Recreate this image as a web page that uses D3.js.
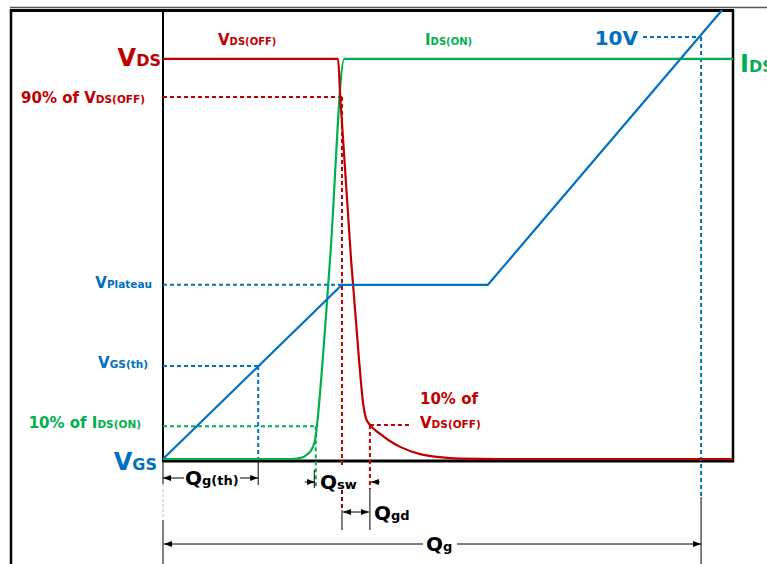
<!DOCTYPE html>
<html>
<head>
<meta charset="utf-8">
<script src="https://cdn.jsdelivr.net/npm/d3@7"></script>
<style>
body { margin: 0; background: #fff; }
svg { display: block; }
</style>
</head>
<body>
<svg width="767" height="564"></svg>
<script>
// Carica di gate sull'asse x (0-100), livelli normalizzati sull'asse y (0-100)
const vdsCharge = [0, 30.7, 31.1, 33.0, 34.4, 35.1, 35.6, 36.3, 38.1, 39.8, 41.6, 45.1, 48.6, 52.1, 59.1, 100];
const vdsLevel = [89.1, 89.1, 80.6, 44.3, 22.0, 12.5, 9.1, 7.6, 5.6, 4.0, 2.7, 1.1, 0.4, 0.1, 0, 0];

const idsCharge = [0, 22.3, 24.0, 25.4, 26.3, 26.8, 27.0, 29.3, 31.8, 100];
const idsLevel = [0, 0, 0.2, 1.1, 2.7, 5.1, 7.3, 44.3, 89.1, 89.1];

const vgsCharge = [0, 31.4, 57.0, 98.1];
const vgsLevel = [0, 38.8, 38.8, 100];

// livelli di riferimento: 90% VDS(OFF), 10% IDS(ON), 10% VDS(OFF), VPlateau, VGS(th), 10V
const refLevels = [80.6, 7.3, 7.6, 38.8, 20.7, 94.0];
// cariche di riferimento: Qg(th), inizio Qsw, inizio plateau, fine Qsw, Qg
const refCharges = [16.7, 26.8, 31.4, 36.3, 94.4];

const RED = '#C00000', GREEN = '#00B050', BLUE = '#0070C0';
const FONT = '"DejaVu Sans", sans-serif';

const svg = d3.select('svg');

const x = d3.scaleLinear().domain([0, 100]).range([163, 733]);
const y = d3.scaleLinear().domain([0, 100]).range([459, 10]);

const [lv90, lIds10, lVds10, lPlat, lTh, l10V] = refLevels;
const [qTh, qSw, qPlat, qVds10, qG] = refCharges;

// frecce
const defs = svg.append('defs');
defs.append('marker')
	.attr('id', 'arrow')
	.attr('viewBox', '0 0 8 6')
	.attr('refX', 8).attr('refY', 3)
	.attr('markerWidth', 8).attr('markerHeight', 6)
	.attr('markerUnits', 'userSpaceOnUse')
	.attr('orient', 'auto-start-reverse')
	.append('path').attr('d', 'M0,0 L8,3 L0,6 Z').attr('fill', '#000');

// cornice esterna
svg.append('line').attr('x1', 10).attr('y1', 7.5).attr('x2', 767).attr('y2', 7.5)
	.style('stroke', '#555').style('stroke-width', 1.5);
svg.append('line').attr('x1', 11).attr('y1', 10.5).attr('x2', 734).attr('y2', 10.5)
	.style('stroke', '#000').style('stroke-width', 3);
svg.append('line').attr('x1', 11).attr('y1', 9).attr('x2', 11).attr('y2', 564)
	.style('stroke', '#000').style('stroke-width', 2.5);

// riquadro del grafico
svg.append('line').attr('x1', x(0)).attr('y1', 10).attr('x2', x(0)).attr('y2', 462)
	.style('stroke', '#000').style('stroke-width', 2);
svg.append('line').attr('x1', x(100)).attr('y1', 10).attr('x2', x(100)).attr('y2', 462)
	.style('stroke', '#000').style('stroke-width', 2.5);
svg.append('line').attr('x1', x(0)).attr('y1', 461).attr('x2', x(100) + 1).attr('y2', 461)
	.style('stroke', '#000').style('stroke-width', 3);

function dashed(x1, y1, x2, y2, color) {
	svg.append('line')
		.attr('x1', x1).attr('y1', y1).attr('x2', x2).attr('y2', y2)
		.style('stroke', color)
		.style('stroke-width', 2)
		.style('stroke-dasharray', '4,3');
}

function solid(x1, y1, x2, y2, color, w) {
	return svg.append('line')
		.attr('x1', x1).attr('y1', y1).attr('x2', x2).attr('y2', y2)
		.style('stroke', color || '#000')
		.style('stroke-width', w || 1);
}

// linee guida tratteggiate
dashed(x(0), y(lv90), x(qPlat), y(lv90), RED);
dashed(x(qPlat), y(lv90), x(qPlat), 466, RED);
dashed(x(qPlat), 490, x(qPlat), 510, '#8B0000');
dashed(x(qVds10), y(lVds10), x(qVds10) + 42, y(lVds10), RED);
dashed(x(qVds10), y(lVds10), x(qVds10), 489, RED);
dashed(x(0), y(lIds10), x(qSw), y(lIds10), GREEN);
dashed(x(qSw), y(lIds10), x(qSw), 489, GREEN);
dashed(x(0), y(lPlat), x(qPlat), y(lPlat), BLUE);
dashed(x(0), y(lTh), x(qTh), y(lTh), BLUE);
dashed(x(qTh), y(lTh), x(qTh), 460, BLUE);
dashed(643, y(l10V), x(qG), y(l10V), BLUE);
dashed(x(qG), y(l10V), x(qG), 496, BLUE);

// curve: IDS e VDS smussate, VGS a tratti rettilinei
const series = [
	{q: idsCharge, v: idsLevel, color: GREEN, curve: d3.curveMonotoneX},
	{q: vdsCharge, v: vdsLevel, color: RED, curve: d3.curveMonotoneX},
	{q: vgsCharge, v: vgsLevel, color: BLUE, curve: d3.curveLinear}
];
series.forEach(s => {
	const line = d3.line()
		.x(d => x(d[0]))
		.y(d => y(d[1]))
		.curve(s.curve);
	svg.append('path')
		.attr('d', line(d3.zip(s.q, s.v)))
		.style('fill', 'none')
		.style('stroke', s.color)
		.style('stroke-width', 2.2)
		.style('stroke-linejoin', 'round');
});

// linee di quota sotto l'asse
solid(x(0), 462, x(0), 484);
svg.append('line').attr('x1', x(0)).attr('y1', 484).attr('x2', x(0)).attr('y2', 517)
	.style('stroke', '#bbb').style('stroke-width', 1).style('stroke-dasharray', '3,2');
solid(x(0), 520, x(0), 564);
solid(x(qTh), 462, x(qTh), 485);
solid(x(qSw) - 1.5, 470, x(qSw) - 1.5, 488);
solid(x(qPlat), 510, x(qPlat), 530);
solid(x(qVds10), 489, x(qVds10), 530);
solid(x(qG), 497, x(qG), 564);

// Qg(th)
solid(x(0), 478, 184, 478).attr('marker-start', 'url(#arrow)');
solid(240, 478, x(qTh), 478).attr('marker-end', 'url(#arrow)');
// Qsw
solid(x(qSw) - 11, 482, x(qSw) - 1, 482).attr('marker-end', 'url(#arrow)');
solid(x(qVds10) + 10, 482, x(qVds10) + 1, 482).attr('marker-end', 'url(#arrow)');
// Qgd
solid(x(qPlat) + 1, 512, x(qVds10) - 1, 512)
	.attr('marker-start', 'url(#arrow)').attr('marker-end', 'url(#arrow)');
// Qg
solid(x(0) + 1, 544, 423, 544).attr('marker-start', 'url(#arrow)');
solid(457, 544, x(qG), 544).attr('marker-end', 'url(#arrow)');

// etichette
function label(parts, px, py, anchor, color) {
	const t = svg.append('text')
		.attr('x', px)
		.attr('y', py)
		.attr('text-anchor', anchor)
		.attr('fill', color)
		.attr('font-family', FONT)
		.attr('font-weight', 'bold');
	parts.forEach(p => {
		t.append('tspan').attr('font-size', p[1] + 'px').text(p[0]);
	});
	return t;
}

label([['V', 24], ['DS', 16]], 161, 66, 'end', RED);
label([['90% of V', 15], ['DS(OFF)', 10.5]], 145, 103, 'end', RED);
label([['V', 15], ['DS(OFF)', 10]], 218, 45, 'start', RED);
label([['I', 15], ['DS(ON)', 10]], 425, 45, 'start', GREEN);
label([['10V', 20]], 638, 45, 'end', BLUE);
label([['I', 24], ['DS', 16]], 740, 72, 'start', GREEN);
label([['V', 15], ['Plateau', 10.5]], 152, 288, 'end', BLUE);
label([['V', 15], ['GS(th)', 10.5]], 148, 368, 'end', BLUE);
label([['10% of I', 15], ['DS(ON)', 10.5]], 141, 428, 'end', GREEN);
label([['V', 24], ['GS', 16]], 157, 470, 'end', BLUE);
label([['10% of', 15]], 420, 404, 'start', RED);
label([['V', 15], ['DS(OFF)', 10.5]], 420, 428, 'start', RED);

label([['Q', 20], ['g(th)', 13]], 185, 485, 'start', '#000');
label([['Q', 20], ['sw', 13]], 320, 489, 'start', '#000');
label([['Q', 20], ['gd', 13]], 374, 520, 'start', '#000');
label([['Q', 20], ['g', 13]], 426, 551, 'start', '#000');
</script>
</body>
</html>
